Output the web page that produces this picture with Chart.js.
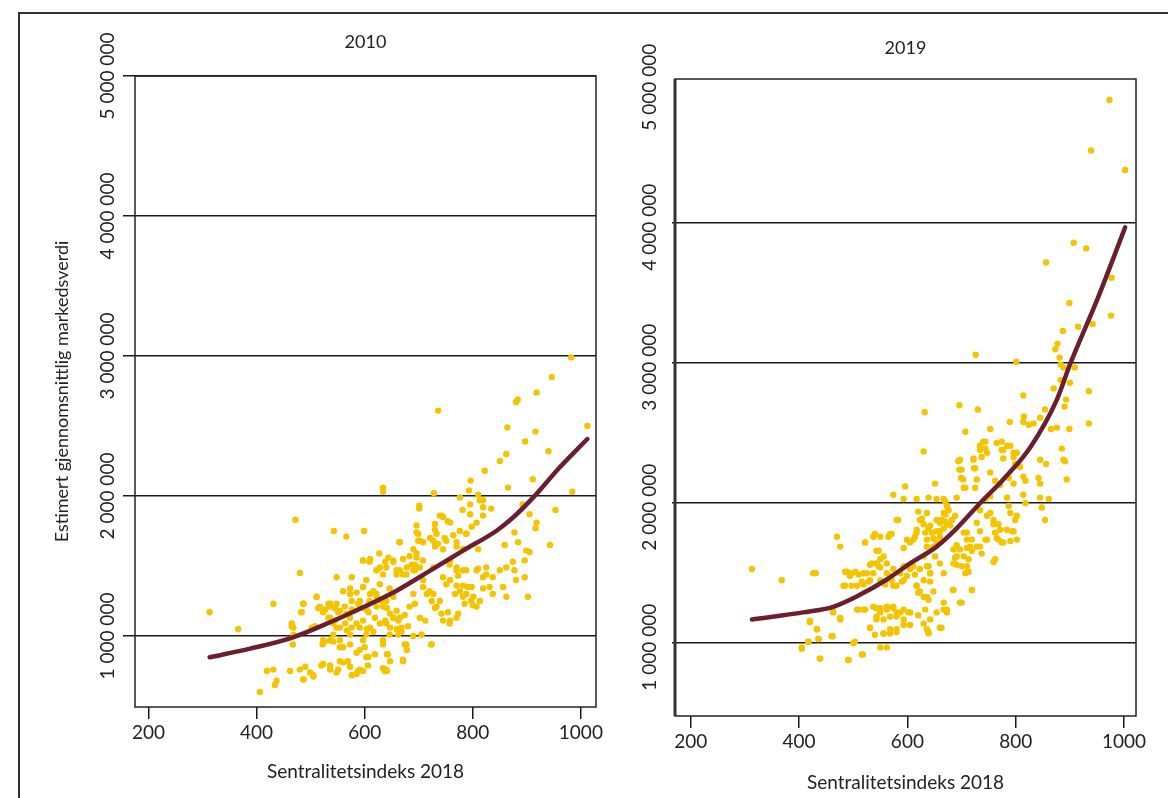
<!DOCTYPE html>
<html>
<head>
<meta charset="utf-8">
<title>Markedsverdi og sentralitet</title>
<script src="https://cdn.jsdelivr.net/npm/chart.js@4.4.1/dist/chart.umd.min.js"></script>
<style>
  body { margin: 0; background: #fff; width: 1168px; height: 798px; overflow: hidden; position: relative; }
  .frame { position: absolute; left: 18px; top: 12px; width: 1200px; height: 820px; border-left: 2px solid #333; border-top: 2px solid #333; }
  canvas { position: absolute; }
  #chart2010 { left: 20px; top: 14px; }
  #chart2019 { left: 610px; top: 14px; }
</style>
</head>
<body>
<div class="frame"></div>
<canvas id="chart2010" width="590" height="784"></canvas>
<canvas id="chart2019" width="558" height="784"></canvas>
<script>
// Akser
const xTicks = [200, 400, 600, 800, 1000];
const yTicks = [1000000, 2000000, 3000000, 4000000, 5000000];
const xTitle = 'Sentralitetsindeks 2018';
const yTitle = 'Estimert gjennomsnittlig markedsverdi';

// Kommuner 2010: [sentralitetsindeks, markedsverdi]
const points2010 = [
  [982,2990000],[946,2850000],[918,2740000],[883,2690000],[880,2670000],[736,2610000],[864,2490000],[916,2460000],
  [1012,2500000],[897,2390000],[940,2320000],[862,2300000],[850,2250000],[822,2180000],[911,2120000],[796,2110000],
  [793,2040000],[865,2060000],[984,2030000],[634,2060000],[634,2030000],[728,2020000],[776,1990000],[810,2010000],
  [819,1970000],[892,1940000],[905,1870000],[953,1900000],[834,1910000],[781,1900000],[807,1810000],[819,1860000],
  [918,1810000],[701,1930000],[701,1910000],[742,1860000],[754,1820000],[472,1830000],[543,1750000],[566,1710000],
  [599,1750000],[696,1790000],[699,1730000],[702,1680000],[730,1760000],[727,1680000],[736,1660000],[748,1700000],
  [745,1620000],[770,1670000],[788,1730000],[810,1620000],[859,1650000],[877,1740000],[884,1670000],[899,1610000],
  [905,1600000],[943,1650000],[916,1770000],[664,1670000],[627,1590000],[597,1540000],[609,1530000],[640,1490000],
  [653,1530000],[671,1550000],[683,1570000],[696,1590000],[659,1440000],[665,1470000],[677,1440000],[690,1470000],
  [702,1490000],[622,1470000],[634,1440000],[480,1450000],[548,1420000],[576,1420000],[708,1400000],[720,1320000],
  [727,1300000],[751,1370000],[773,1430000],[788,1470000],[810,1480000],[825,1440000],[837,1420000],[850,1470000],
  [862,1490000],[874,1530000],[856,1350000],[862,1280000],[819,1340000],[896,1540000],[896,1420000],[902,1280000],
  [767,1300000],[782,1280000],[797,1250000],[807,1210000],[785,1230000],[800,1220000],[754,1170000],[739,1250000],
  [733,1210000],[745,1110000],[757,1090000],[773,1160000],[712,1110000],[690,1300000],[693,1230000],[702,1130000],
  [683,1210000],[674,1150000],[680,1070000],[665,1130000],[668,1060000],[662,1010000],[690,1000000],[705,1010000],
  [723,940000],[677,940000],[671,820000],[640,1090000],[646,1010000],[634,940000],[643,870000],[640,760000],
  [637,750000],[622,1210000],[619,1130000],[610,1060000],[603,1010000],[597,970000],[591,900000],[603,850000],
  [606,790000],[597,750000],[585,730000],[576,720000],[588,750000],[569,820000],[560,810000],[551,760000],
  [536,790000],[523,800000],[542,1010000],[554,970000],[560,920000],[536,970000],[526,960000],[573,1010000],
  [576,1060000],[585,1090000],[597,1110000],[566,1160000],[576,1190000],[591,1210000],[603,1190000],[536,1210000],
  [533,1230000],[548,1230000],[554,1180000],[563,1210000],[511,1280000],[517,1210000],[523,1170000],[486,1230000],
  [483,1170000],[508,1070000],[502,1060000],[465,1070000],[468,1010000],[467,940000],[523,970000],[522,940000],
  [431,1230000],[366,1050000],[313,1170000],[480,760000],[490,780000],[499,740000],[505,720000],[462,750000],
  [486,690000],[419,750000],[431,760000],[437,680000],[434,650000],[406,600000],[597,1350000],[603,1400000],
  [616,1320000],[628,1370000],[646,1340000],[653,1280000],[640,1250000],[634,1210000],[609,1250000],[622,1280000],
  [536,1130000],[542,1090000],[548,1060000],[573,1300000],[576,1250000],[591,1250000],[659,1180000],[653,1130000],
  [693,1510000],[708,1540000],[727,1490000],[757,1510000],[770,1470000],[782,1360000],[791,1350000],[837,1300000],
  [831,1350000],[877,1470000],[880,1400000],
  [487,690000],[505,710000],[520,790000],[536,760000],[548,740000],[554,820000],[573,780000],[585,730000],
  [591,760000],[542,960000],[554,920000],[573,940000],[585,880000],[600,920000],[607,850000],[619,870000],
  [634,970000],[641,870000],[647,820000],[674,940000],[678,900000],[671,830000],[641,750000],[634,770000],
  [724,940000],[705,1010000],[468,1060000],[465,1090000],[483,1170000],[487,1230000],[511,1280000],[514,1200000],
  [527,1190000],[536,1230000],[545,1200000],[551,1170000],[533,1130000],[545,1110000],[564,1090000],[567,1040000],
  [554,1060000],[573,1130000],[579,1180000],[588,1230000],[597,1200000],[607,1170000],[560,1320000],[573,1340000],
  [585,1310000],[597,1350000],[610,1300000],[622,1300000],[631,1250000],[641,1200000],[647,1160000],[653,1130000],
  [662,1110000],[591,1060000],[604,1050000],[616,1030000],[628,1090000],[638,1110000],[647,1060000],[659,1050000],
  [668,1030000],[597,1540000],[610,1550000],[622,1470000],[628,1490000],[638,1530000],[644,1560000],[653,1540000],
  [659,1470000],[671,1440000],[678,1490000],[687,1510000],[696,1560000],[693,1470000],[696,1740000],[699,1680000],
  [708,1670000],[721,1700000],[730,1640000],[733,1730000],[665,1670000],[690,1620000],[730,1800000],[739,1860000],
  [745,1850000],[758,1810000],[751,1680000],[764,1720000],[770,1640000],[782,1620000],[776,1750000],[788,1730000],
  [798,1780000],[758,1540000],[770,1490000],[782,1470000],[745,1420000],[758,1400000],[770,1360000],[776,1320000],
  [788,1300000],[801,1280000],[813,1250000],[798,1350000],[708,1350000],[715,1300000],[724,1250000],[730,1200000],
  [742,1160000],[758,1110000],[770,1130000],[807,1470000],[819,1420000],[825,1490000],[795,1940000],[813,1970000],
  [819,1920000],[795,1870000]
];

// Glattet kurve 2010
const trend2010 = [
  [313,848000],[388,910000],[462,983000],[536,1098000],[597,1205000],[659,1324000],[721,1467000],
  [782,1610000],[844,1752000],[875,1848000],[912,1990000],[961,2205000],[1012,2407000]
];

// Kommuner 2019: [sentralitetsindeks, markedsverdi]
const points2019 = [
  [973,4880000],[939,4520000],[1002,4380000],[907,3860000],[930,3820000],[856,3720000],[977,3610000],[899,3430000],
  [976,3340000],[915,3260000],[942,3280000],[887,3230000],[877,3140000],[873,3100000],[726,3060000],[801,3010000],
  [881,3040000],[883,2990000],[888,2970000],[909,2970000],[935,2800000],[870,2820000],[883,2880000],[900,2860000],
  [814,2770000],[893,2740000],[890,2690000],[935,2570000],[632,2650000],[696,2700000],[730,2670000],[789,2580000],
  [815,2620000],[814,2580000],[824,2560000],[833,2570000],[845,2610000],[854,2670000],[707,2510000],[753,2530000],
  [865,2530000],[876,2540000],[899,2530000],[630,2370000],[694,2300000],[696,2240000],[699,2180000],[704,2110000],
  [722,2320000],[723,2250000],[740,2440000],[744,2390000],[734,2380000],[774,2440000],[777,2380000],[784,2410000],
  [796,2330000],[808,2260000],[802,2360000],[814,2190000],[818,2160000],[845,2310000],[856,2280000],[842,2180000],
  [845,2140000],[885,2390000],[888,2310000],[891,2300000],[894,2170000],[651,2140000],[596,2120000],[574,2060000],
  [593,2030000],[617,2030000],[639,2040000],[654,2030000],[670,2010000],[673,1980000],[667,1930000],[663,1880000],
  [691,2040000],[744,2030000],[753,2050000],[784,2040000],[787,1980000],[790,1930000],[799,1880000],[802,1910000],
  [814,2060000],[818,2000000],[845,2040000],[848,1970000],[854,1880000],[861,2030000],[753,1930000],[759,1880000],
  [768,1850000],[728,1860000],[734,1800000],[744,1740000],[762,1790000],[768,1740000],[777,1720000],[793,1800000],
  [802,1740000],[759,1580000],[704,1790000],[710,1740000],[716,1690000],[719,1660000],[691,1700000],[697,1670000],
  [691,1620000],[685,1570000],[710,1550000],[713,1510000],[719,1380000],[684,1380000],[670,1870000],[679,1840000],
  [654,1880000],[642,1840000],[633,1790000],[627,1890000],[620,1940000],[636,1740000],[648,1750000],[660,1800000],
  [636,1690000],[630,1620000],[639,1550000],[642,1500000],[617,1810000],[614,1760000],[605,1720000],[593,1680000],
  [583,1880000],[571,1780000],[565,1760000],[537,1760000],[522,1720000],[547,1660000],[556,1620000],[534,1570000],
  [543,1570000],[550,1540000],[525,1500000],[516,1440000],[531,1450000],[504,1510000],[494,1480000],[485,1510000],
  [482,1410000],[497,1410000],[562,1500000],[571,1450000],[580,1410000],[593,1450000],[593,1550000],[605,1530000],
  [614,1490000],[617,1410000],[620,1360000],[630,1330000],[639,1310000],[633,1240000],[642,1170000],[636,1100000],
  [639,1070000],[654,1220000],[663,1110000],[667,1290000],[673,1240000],[700,1290000],[470,1760000],[476,1690000],
  [431,1500000],[368,1450000],[313,1530000],[463,1230000],[476,1180000],[510,1240000],[519,1240000],[537,1260000],
  [550,1250000],[562,1260000],[574,1250000],[587,1220000],[543,1190000],[556,1170000],[568,1190000],[580,1190000],
  [593,1170000],[602,1220000],[605,1130000],[620,1200000],[531,1110000],[540,1060000],[556,1070000],[568,1070000],
  [580,1100000],[420,1150000],[433,1100000],[436,1030000],[417,1010000],[405,960000],[462,1050000],[500,1000000],
  [518,920000],[491,880000],[438,890000],[550,970000],[562,970000],
  [734,2410000],[744,2440000],[747,2360000],[737,2330000],[697,2310000],[700,2240000],[703,2170000],[707,2110000],
  [722,2310000],[725,2250000],[728,2170000],[725,2110000],[765,2430000],[774,2380000],[777,2320000],[790,2410000],
  [796,2360000],[799,2280000],[753,2220000],[762,2160000],[771,2130000],[787,2180000],[796,2140000],[667,2030000],
  [673,1980000],[670,1920000],[676,1950000],[636,1930000],[623,1880000],[630,1850000],[639,1820000],[645,1790000],
  [654,1800000],[660,1860000],[667,1820000],[673,1850000],[682,1880000],[688,1910000],[660,1760000],[654,1720000],
  [648,1690000],[580,1880000],[599,1740000],[611,1740000],[617,1790000],[568,1780000],[550,1760000],[540,1780000],
  [522,1720000],[543,1660000],[550,1600000],[547,1550000],[531,1560000],[488,1510000],[497,1500000],[510,1490000],
  [519,1500000],[485,1410000],[507,1410000],[519,1420000],[528,1440000],[562,1570000],[574,1530000],[587,1500000],
  [568,1480000],[537,1500000],[550,1450000],[559,1420000],[574,1410000],[590,1440000],[599,1480000],[611,1550000],
  [623,1530000],[636,1550000],[642,1500000],[617,1410000],[623,1370000],[636,1330000],[648,1370000],[630,1450000],
  [642,1440000],[651,1620000],[660,1570000],[667,1500000],[685,1380000],[697,1290000],[719,1380000],[673,1220000],
  [667,1240000],[507,1240000],[522,1240000],[543,1250000],[550,1220000],[562,1240000],[574,1260000],[580,1220000],
  [593,1240000],[605,1220000],[531,1110000],[543,1170000],[556,1070000],[568,1100000],[580,1080000],[593,1130000],
  [630,1140000],[639,1080000],[660,1110000],[503,1010000],[516,920000],[491,880000],[439,890000],[405,970000],
  [417,1010000],[436,1030000],[460,1050000],[420,1160000],[433,1100000],[463,1220000],[476,1170000],[426,1500000],
  [734,1950000],[747,1910000],[759,1850000],[771,1810000],[783,1810000],[796,1800000],[747,1740000],[765,1750000],
  [774,1720000],[790,1730000],[710,1790000],[719,1740000],[728,1690000],[710,1680000],[704,1620000],[713,1600000],
  [700,1550000],[707,1500000],[685,1670000],[688,1610000],[691,1560000],[734,1690000],[737,1640000],[762,1600000]
];

// Glattet kurve 2019
const trend2019 = [
  [313,1170000],[408,1220000],[463,1260000],[507,1335000],[562,1455000],[605,1570000],[654,1690000],
  [691,1820000],[734,2000000],[777,2170000],[827,2400000],[876,2740000],[901,3000000],[950,3450000],[1002,3970000]
];

Chart.defaults.font.family = 'Lato, "Open Sans", sans-serif';
Chart.defaults.color = '#222';

// "1000000" -> "1 000 000"
function spaced(v) {
  return String(v).replace(/\B(?=(\d{3})+(?!\d))/g, ' ');
}

// halve bredden av den lengste y-etiketten, for å sentrere de roterte etikettene
const measure = document.createElement('canvas').getContext('2d');
measure.font = '19px ' + Chart.defaults.font.family;
const halfLabel = Math.max(...yTicks.map(v => measure.measureText(spaced(v)).width)) / 2;

// ramme rundt plottområdet
const framePlugin = {
  id: 'frame',
  afterDatasetsDraw(chart, args, opts) {
    const { ctx, chartArea: a } = chart;
    ctx.save();
    ctx.strokeStyle = '#222';
    ctx.lineWidth = 1.5;
    ctx.strokeRect(a.left, a.top, a.right - a.left, a.bottom - a.top);
    if (opts.leftWidth) {
      ctx.lineWidth = opts.leftWidth;
      ctx.strokeStyle = '#333';
      ctx.beginPath();
      ctx.moveTo(a.left, a.top);
      ctx.lineTo(a.left, a.bottom);
      ctx.stroke();
    }
    ctx.restore();
  }
};

function makePanel(id, cfg) {
  const ctx = document.getElementById(id).getContext('2d');
  return new Chart(ctx, {
    type: 'scatter',
    data: {
      datasets: [
        {
          type: 'line',
          data: cfg.trend.map(([x, y]) => ({ x, y })),
          borderColor: '#6a1e2e',
          borderWidth: 4.5,
          borderCapStyle: 'round',
          pointRadius: 0,
          cubicInterpolationMode: 'monotone',
          fill: false,
          order: 0
        },
        {
          type: 'scatter',
          data: cfg.points.map(([x, y]) => ({ x, y })),
          backgroundColor: '#f5c400',
          borderWidth: 0,
          pointRadius: 3.2,
          order: 1
        }
      ]
    },
    options: {
      responsive: false,
      animation: false,
      events: [],
      layout: { padding: { left: 0, right: cfg.padRight, top: 0, bottom: 0 } },
      scales: {
        x: {
          type: 'linear',
          min: cfg.xMin,
          max: cfg.xMax,
          afterBuildTicks: s => { s.ticks = xTicks.map(v => ({ value: v })); },
          afterFit: s => { s.height = cfg.xHeight; },
          grid: { drawOnChartArea: false, drawTicks: true, tickLength: 12, color: '#1a1a1a', lineWidth: 1.5 },
          border: { display: false },
          ticks: { autoSkip: false, maxRotation: 0, padding: 2, color: '#222', font: { size: 19 }, callback: v => String(v) },
          title: { display: true, text: xTitle, color: '#222', font: { size: 19 }, padding: { top: 0, bottom: cfg.xTitlePad } }
        },
        y: {
          type: 'linear',
          min: cfg.yMin,
          max: cfg.yMax,
          afterBuildTicks: s => { s.ticks = yTicks.map(v => ({ value: v })); },
          afterFit: s => { s.width = cfg.yWidth; },
          grid: {
            color: c => (c.tick && cfg.hideTop && c.tick.value === 5000000) ? 'rgba(0,0,0,0)' : '#1a1a1a',
            lineWidth: 1.5,
            drawTicks: true,
            tickLength: cfg.yTickLen
          },
          border: { display: false },
          ticks: {
            autoSkip: false,
            minRotation: 90,
            maxRotation: 90,
            crossAlign: 'center',
            padding: cfg.yLabelGap - halfLabel,
            labelOffset: cfg.yLabelOffset,
            color: '#222',
            font: { size: 19 },
            callback: v => spaced(v)
          },
          title: { display: cfg.showYTitle, text: yTitle, color: '#222', font: { size: 18 }, padding: { top: 31.2, bottom: 0 } }
        }
      },
      plugins: {
        legend: { display: false },
        tooltip: { enabled: false },
        title: {
          display: true,
          text: cfg.title,
          fullSize: false,
          color: '#222',
          font: { size: 18, weight: 'normal' },
          padding: { top: cfg.titleTop, bottom: cfg.titleBottom }
        },
        frame: { leftWidth: cfg.leftWidth }
      }
    },
    plugins: [framePlugin]
  });
}

makePanel('chart2010', {
  title: '2010', points: points2010, trend: trend2010,
  xMin: 175, xMax: 1028, yMin: 493000, yMax: 5000000,
  padRight: 14, xHeight: 91, yWidth: 115, xTitlePad: 14.6,
  yTickLen: 12, yLabelGap: 15, yLabelOffset: 0, showYTitle: true, hideTop: false,
  titleTop: 17.2, titleBottom: 23.2, leftWidth: 0
});

makePanel('chart2019', {
  title: '2019', points: points2019, trend: trend2019,
  xMin: 171, xMax: 1022, yMin: 480000, yMax: 5030000,
  padRight: 32, xHeight: 82, yWidth: 65, xTitlePad: 3.6,
  yTickLen: 3, yLabelGap: 22, yLabelOffset: 4, showYTitle: false, hideTop: true,
  titleTop: 23.2, titleBottom: 20.2, leftWidth: 3
});
</script>
</body>
</html>
